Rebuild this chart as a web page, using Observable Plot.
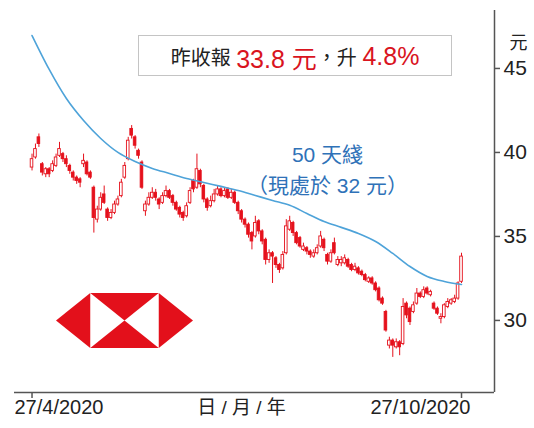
<!DOCTYPE html>
<html><head><meta charset="utf-8">
<script src="https://cdn.jsdelivr.net/npm/d3@7"></script>
<script src="https://cdn.jsdelivr.net/npm/@observablehq/plot@0.6"></script>
<style>
body{margin:0;background:#fff;}
#wrap{position:relative;width:534px;height:428px;font-family:"Liberation Sans","Noto Sans CJK TC",sans-serif;}
#box{position:absolute;left:138px;top:35px;width:314px;height:41px;border:1px solid #c4c4c4;background:#fff;box-sizing:border-box;display:flex;align-items:center;justify-content:center;white-space:nowrap;color:#222;padding-top:2px;}
#box .zh{font-size:20px;}
#box .num{font-size:25px;color:#d9141e;}
#logo{position:absolute;left:56px;top:293px;width:137px;height:55px;}
</style></head>
<body><div id="wrap"></div>
<script>
// trading-day index 0 = 27/4/2020 ... 125 = 27/10/2020
const opens = [
 39.1,39.7,40.9,39.3,38.7,39.0,38.9,39.2,39.8,39.9,
 39.6,39.2,38.8,38.5,38.4,39.3,39.4,38.8,37.9,36.0,
 36.6,37.5,36.6,36.1,36.4,36.9,37.4,38.5,39.6,41.4,
 40.9,40.1,39.4,36.5,36.9,37.3,37.6,37.2,37.0,37.4,
 37.7,37.4,37.0,36.7,36.4,36.2,37.0,38.3,37.9,38.9,
 38.0,37.2,36.8,37.1,37.5,37.8,37.4,37.8,37.3,37.6,
 37.0,36.5,36.0,35.7,35.2,35.0,35.9,35.3,34.8,33.6,
 34.0,33.7,33.3,33.1,34.0,35.4,35.8,35.2,34.9,34.2,
 34.3,34.1,33.8,34.0,34.4,34.8,33.9,33.5,34.6,33.3,
 33.4,33.4,33.6,33.3,33.0,33.1,32.9,32.7,32.3,32.5,
 32.2,31.9,31.3,30.5,28.5,28.8,28.4,28.7,28.6,31.0,
 30.7,30.5,31.0,31.6,31.4,31.9,31.5,31.0,30.7,30.1,
 30.2,30.8,31.0,31.1,31.3,32.3];
const closes = [
 39.6,40.2,40.5,38.8,39.0,38.7,39.3,39.7,40.2,39.6,
 39.3,38.9,38.5,38.3,38.2,39.5,38.7,38.5,36.1,36.6,
 37.3,37.0,36.1,36.4,36.9,37.2,38.2,39.2,40.7,41.0,
 40.4,39.8,37.9,36.9,37.3,37.6,37.3,36.9,37.4,37.7,
 37.3,37.0,36.6,36.3,36.1,36.8,37.7,37.8,39.0,38.1,
 37.2,36.7,37.1,37.5,37.8,37.4,37.7,37.3,37.6,37.0,
 36.5,36.0,35.7,35.1,34.7,35.8,35.3,34.7,33.6,34.0,
 33.8,33.3,33.0,33.9,35.6,35.9,35.2,34.6,34.4,34.4,
 34.1,33.9,34.0,34.3,35.0,34.3,33.5,34.0,34.0,33.6,
 33.6,33.7,33.2,33.0,33.2,32.8,32.7,32.4,32.5,32.2,
 31.8,31.2,31.0,29.4,28.8,28.5,28.7,28.4,30.8,30.3,
 29.9,30.9,31.6,31.4,31.8,31.6,31.7,30.7,30.4,30.2,
 30.9,31.1,31.2,31.3,32.2,33.8];
const highs = [
 39.9,40.5,41.1,39.4,39.1,39.1,39.5,39.9,40.6,40.0,
 39.8,39.3,38.9,38.6,38.5,39.9,39.5,38.9,38.0,36.8,
 37.6,38.0,36.7,36.6,37.1,37.4,38.4,39.4,40.9,41.6,
 41.0,40.2,39.5,37.1,37.6,37.9,37.8,37.3,37.6,38.0,
 37.8,37.5,37.1,36.8,36.5,37.0,37.9,38.4,39.9,39.0,
 38.1,37.3,37.4,37.8,38.0,37.9,37.9,37.9,37.8,37.7,
 37.1,36.6,36.1,35.8,35.3,36.2,36.0,35.4,34.9,34.2,
 34.1,33.8,33.4,34.1,36.0,36.2,35.9,35.3,35.0,34.6,
 34.4,34.2,34.2,34.5,35.3,34.9,34.0,34.2,34.9,33.8,
 33.8,33.9,33.7,33.4,33.4,33.2,33.0,32.8,32.6,32.6,
 32.3,32.0,31.4,30.6,29.0,28.9,28.9,28.8,31.3,31.1,
 30.8,31.1,31.9,31.7,32.0,32.0,31.8,31.1,30.8,30.4,
 31.0,31.3,31.3,31.5,32.3,34.0];
const lows = [
 38.9,39.6,40.3,38.6,38.5,38.5,38.8,39.1,39.7,39.4,
 39.1,38.7,38.3,38.1,37.9,39.1,38.6,38.4,35.2,35.8,
 36.5,36.9,35.9,36.0,36.3,36.8,37.3,38.4,39.5,40.8,
 40.2,39.6,37.8,36.2,36.8,37.2,37.1,36.6,36.9,37.3,
 37.2,36.8,36.5,36.1,35.9,36.1,36.9,37.6,37.8,37.9,
 37.0,36.5,36.7,37.0,37.4,37.3,37.3,37.2,37.2,36.9,
 36.3,35.8,35.5,34.9,34.2,34.9,35.1,34.5,33.3,33.4,
 32.2,33.1,32.8,33.0,33.9,35.3,35.0,34.5,34.3,34.1,
 33.9,33.7,33.7,33.9,34.3,34.1,33.3,33.4,33.9,33.2,
 33.2,33.3,33.1,32.9,32.9,32.7,32.6,32.3,32.2,32.1,
 31.7,31.1,30.9,29.3,28.3,27.8,28.3,27.9,28.5,30.1,
 29.7,30.4,30.9,31.3,31.3,31.5,31.4,30.6,30.3,29.8,
 30.1,30.7,30.9,31.0,31.2,32.2];

// 50-day moving average, read every 5 trading days
const maDays = [0,5,10,15,20,25,30,35,40,45,50,55,60,65,70,75,80,85,90,95,100,105,110,115,120,125];
const maValues = [46.96,44.94,43.21,41.90,40.83,40.00,39.46,39.05,38.75,38.45,38.21,37.98,37.74,37.44,37.14,36.85,36.37,35.89,35.54,35.18,34.70,33.99,33.21,32.62,32.32,32.14];

const yTicks = [30, 35, 40, 45];
const xTickDays = [0, 125];
const xLabels = ["27/4/2020", "日 / 月 / 年", "27/10/2020"];
const unitLabel = "元";
const maLabel = [{day: 86, value: 39.1, text: "50 天綫\n（現處於 32 元）"}];

const red = "#e5111c";
const blue = "#2f72b8";
const lineBlue = "#4ea3d9";
const axisColor = "#555";
const font = '"Liberation Sans","Noto Sans CJK TC",sans-serif';

const candles = opens.map((o, i) => ({i, open: o, close: closes[i], high: highs[i], low: lows[i]}));
const ma = maDays.map((d, k) => ({day: d, value: maValues[k]}));

const xDomain = [-5.1, 134.6];
const yDomain = [25.71, 48.45];

const chart = Plot.plot({
  width: 534, height: 428,
  marginLeft: 14, marginRight: 40, marginTop: 10, marginBottom: 36,
  x: {domain: xDomain, axis: null},
  y: {domain: yDomain, axis: null},
  style: {fontFamily: font, background: "white", overflow: "visible"},
  marks: [
    Plot.ruleY([yDomain[0]], {stroke: axisColor, strokeWidth: 1.5}),
    Plot.ruleX([xDomain[1]], {stroke: axisColor, strokeWidth: 1.5}),
    Plot.axisY({anchor: "right", ticks: yTicks, tickSize: 5, tickPadding: 4, fontSize: 21, stroke: axisColor, strokeWidth: 1.5, fill: "#222", label: null}),
    Plot.axisX({ticks: xTickDays, tickSize: 6, tickFormat: () => "", stroke: axisColor, strokeWidth: 1.5, label: null}),
    Plot.text([xLabels[0]], {text: d => d, frameAnchor: "bottom-left", textAnchor: "start", dy: 21, fontSize: 20, fill: "#222"}),
    Plot.text([xLabels[1]], {text: d => d, frameAnchor: "bottom", textAnchor: "middle", dx: -13, dy: 21, fontSize: 19, fill: "#222"}),
    Plot.text([xLabels[2]], {text: d => d, frameAnchor: "bottom-right", textAnchor: "end", dx: -24, dy: 21, fontSize: 20, fill: "#222"}),
    Plot.text([unitLabel], {text: d => d, frameAnchor: "top-right", textAnchor: "start", dx: 15, dy: 26, fontSize: 18, fill: "#222"}),
    Plot.ruleX(candles, {x: "i", y1: "low", y2: "high", stroke: red, strokeWidth: 1}),
    Plot.rect(candles, {x1: d => d.i - 0.38, x2: d => d.i + 0.38, y1: "open", y2: "close",
      fill: d => d.close >= d.open ? "white" : red, stroke: red, strokeWidth: 0.9}),
    Plot.line(ma, {x: "day", y: "value", curve: "monotone-x", stroke: lineBlue, strokeWidth: 1.6}),
    Plot.text(maLabel, {x: "day", y: "value", text: "text", fill: blue, fontSize: 21, lineHeight: 1.5})
  ]
});

const wrap = document.getElementById("wrap");
wrap.appendChild(chart);

const box = document.createElement("div");
box.id = "box";
box.innerHTML = '<span class="zh">昨收報&nbsp;</span><span class="num">33.8 元</span><span class="zh">，升&nbsp;</span><span class="num">4.8%</span>';
wrap.appendChild(box);

const logo = document.createElementNS("http://www.w3.org/2000/svg", "svg");
logo.setAttribute("id", "logo");
logo.setAttribute("viewBox", "0 0 4 1.6");
logo.setAttribute("preserveAspectRatio", "none");
logo.innerHTML = '<g fill="#e3101b"><polygon points="0,0.8 1,0 1,1.6"/><polygon points="4,0.8 3,0 3,1.6"/><polygon points="1,0 3,0 2,0.8"/><polygon points="1,1.6 3,1.6 2,0.8"/></g>';
wrap.appendChild(logo);
</script>
</body></html>
